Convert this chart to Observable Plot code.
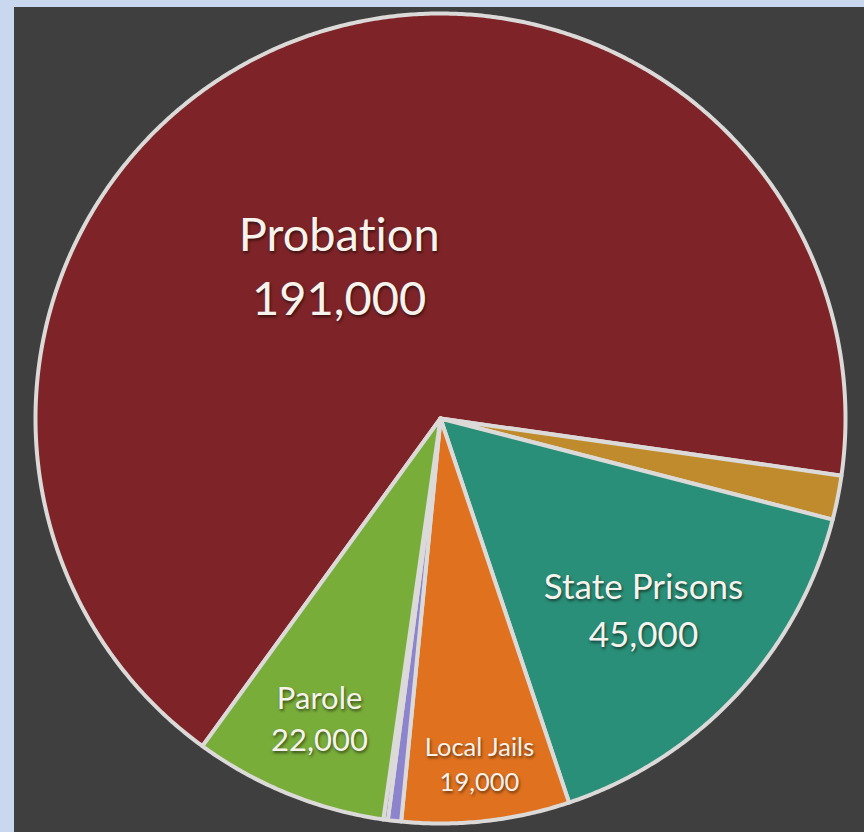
<!DOCTYPE html>
<html>
<head>
<meta charset="utf-8">
<script src="https://cdn.jsdelivr.net/npm/d3@7"></script>
<script src="https://cdn.jsdelivr.net/npm/@observablehq/plot@0.6"></script>
<style>
  html, body { margin: 0; padding: 0; background: #c9d8ee; }
  #frame { padding: 7px 0 0 14px; width: 850px; height: 825px; }
  #chart svg { display: block; background: #403f40; }
  #chart text { text-shadow: 1px 2px 3px rgba(0,0,0,0.55); font-variant-ligatures: none; font-feature-settings: "liga" 0; }
</style>
</head>
<body>
<div id="frame"><div id="chart"></div></div>
<script>
// ---- data, clockwise order ----
const categories = ["Probation", "Federal Prisons", "State Prisons", "Local Jails", "Juvenile", "Other", "Parole"];
const values     = [191000, 5000, 45000, 19000, 1500, 500, 22000];
const labelled   = ["Probation", "State Prisons", "Local Jails", "Parole"];

// ---- styling / layout ----
const colors = ["#7e2428", "#c08b2c", "#2a8f78", "#e0721f", "#8c84cc", "#5563c4", "#79ad39"];
const startDeg = -144;            // where the first slice begins (clockwise from 12 o'clock)
const labelStyle = {
  "Probation":     {r: 0.46,  turn: -10, size: 47},
  "State Prisons": {r: 0.685, turn: 0,   size: 35},
  "Local Jails":   {r: 0.855, turn: 0,   size: 25.5},
  "Parole":        {r: 0.795, turn: 0,   size: 31}
};

const W = 850, H = 825, cx = 426, cy = 411, R = 405;
const total = d3.sum(values);
const rad = d => d * Math.PI / 180;

// slices with angles
let acc = startDeg;
const slices = categories.map((name, i) => {
  const a0 = acc, a1 = acc + values[i] / total * 360;
  acc = a1;
  return {name, value: values[i], a0, a1};
});

// polygon outline for each slice (unit circle coordinates)
const outline = [];
for (const s of slices) {
  outline.push({name: s.name, x: 0, y: 0});
  const n = Math.max(2, Math.ceil((s.a1 - s.a0) / 0.4));
  for (let k = 0; k <= n; k++) {
    const a = rad(s.a0 + (s.a1 - s.a0) * k / n);
    outline.push({name: s.name, x: Math.sin(a), y: Math.cos(a)});
  }
  outline.push({name: s.name, x: 0, y: 0});
}

const fmt = d3.format(",");
const labels = slices.filter(s => labelled.includes(s.name)).map(s => {
  const st = labelStyle[s.name];
  const a = rad((s.a0 + s.a1) / 2 + st.turn);
  return {name: s.name, value: s.value, x: st.r * Math.sin(a), y: st.r * Math.cos(a), size: st.size};
});

const chart = Plot.plot({
  width: W, height: H,
  margin: 0,
  x: {domain: [-1, 1], range: [cx - R, cx + R], axis: null},
  y: {domain: [-1, 1], range: [cy + R, cy - R], axis: null},
  color: {domain: categories, range: colors},
  style: {background: "#403f40", fontFamily: "Lato, 'Open Sans', sans-serif"},
  marks: [
    Plot.line(outline, {
      x: "x", y: "y", z: "name", fill: "name",
      stroke: "#dcdad8", strokeWidth: 4, strokeLinejoin: "round", strokeOpacity: 1
    }),
    Plot.text(labels, {
      x: "x", y: "y",
      text: d => `${d.name}\n${fmt(d.value)}`,
      fontSize: "size", lineHeight: 1.36,
      fill: "#f6f3ec", textAnchor: "middle", fontFamily: "Lato, 'Open Sans', sans-serif"
    })
  ]
});
document.getElementById("chart").append(chart);
</script>
</body>
</html>
